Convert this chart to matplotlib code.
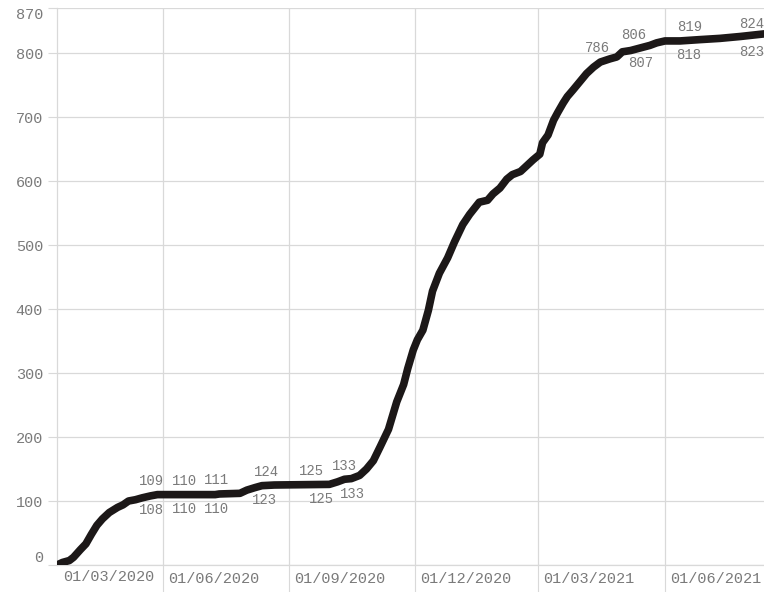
import numpy as np
import matplotlib.pyplot as plt
import matplotlib.dates as mdates
import matplotlib.transforms as mtransforms

# cumulative series
dates = ["2020-03-16", "2020-03-20", "2020-03-25", "2020-03-28", "2020-04-02",
         "2020-04-06", "2020-04-10", "2020-04-14", "2020-04-18", "2020-04-23",
         "2020-04-29", "2020-05-03", "2020-05-07", "2020-05-12", "2020-05-17",
         "2020-05-23", "2020-05-28", "2020-06-01", "2020-07-09", "2020-07-12",
         "2020-07-27", "2020-08-01", "2020-08-07", "2020-08-12", "2020-08-21",
         "2020-09-30", "2020-10-06", "2020-10-11", "2020-10-16", "2020-10-22",
         "2020-10-27", "2020-11-01", "2020-11-06", "2020-11-12", "2020-11-18",
         "2020-11-23", "2020-11-26", "2020-11-30", "2020-12-03", "2020-12-07",
         "2020-12-11", "2020-12-14", "2020-12-19", "2020-12-25", "2020-12-30",
         "2021-01-05", "2021-01-10", "2021-01-17", "2021-01-23", "2021-01-27",
         "2021-02-01", "2021-02-06", "2021-02-10", "2021-02-16", "2021-02-21",
         "2021-02-25", "2021-03-02", "2021-03-04", "2021-03-08", "2021-03-12",
         "2021-03-15", "2021-03-19", "2021-03-22", "2021-03-26", "2021-03-31",
         "2021-04-05", "2021-04-10", "2021-04-15", "2021-04-22", "2021-04-27",
         "2021-05-01", "2021-05-07", "2021-05-14", "2021-05-21", "2021-05-26",
         "2021-06-01", "2021-06-12", "2021-06-26", "2021-07-11", "2021-07-26",
         "2021-08-12"]
values = [0, 4, 7, 12, 24,
          33, 48, 62, 72, 82,
          90, 94, 100, 102, 105,
          108, 110, 110, 110, 111,
          112, 117, 121, 124, 125,
          126, 130, 134, 135, 140,
          150, 163, 185, 212, 255,
          282, 307, 336, 352, 367,
          398, 428, 456, 480, 505,
          532, 548, 567, 570, 580,
          589, 603, 610, 615, 625,
          633, 642, 660, 672, 695,
          707, 722, 732, 742, 755,
          768, 778, 786, 791, 794,
          802, 804, 808, 812, 816,
          819, 819, 821, 823, 826,
          830]

# value labels above and below the line
upper_dates = ["2020-05-24", "2020-06-17", "2020-07-10", "2020-08-15", "2020-09-17",
               "2020-10-11", "2021-04-13", "2021-05-09", "2021-06-19", "2021-08-03"]
upper_vals = [109, 110, 111, 124, 125, 133, 786, 806, 819, 824]
lower_dates = ["2020-05-24", "2020-06-17", "2020-07-10", "2020-08-14", "2020-09-24",
               "2020-10-17", "2021-05-14", "2021-06-18", "2021-08-03"]
lower_vals = [108, 110, 110, 123, 125, 133, 807, 818, 823]

month_ticks = ["2020-06-01", "2020-09-01", "2020-12-01", "2021-03-01", "2021-06-01"]
y_ticks = [0, 100, 200, 300, 400, 500, 600, 700, 800, 870]

x = np.array(dates, dtype="datetime64[D]")
grey = "#d9d9d9"
txt = "#7a7a7a"
font = "Liberation Mono"

fig = plt.figure(figsize=(7.64, 5.92), dpi=100)
ax = fig.add_axes([57 / 764, 27 / 592, 707 / 764, 556.7 / 592])

ax.plot(x, values, color="#1c1818", lw=5.5, solid_capstyle="round",
        solid_joinstyle="round", zorder=3)

for d, v in zip(upper_dates, upper_vals):
    ax.annotate(str(v), (np.datetime64(d), v), xytext=(0, 10), textcoords="offset points",
                ha="center", va="center", fontsize=10, color=txt, family=font)
for d, v in zip(lower_dates, lower_vals):
    ax.annotate(str(v), (np.datetime64(d), v), xytext=(0, -10), textcoords="offset points",
                ha="center", va="center", fontsize=10, color=txt, family=font)

ax.set_xlim(np.datetime64("2020-03-16"), np.datetime64("2021-08-12"))
ax.set_ylim(0, 870)

ax.set_yticks(y_ticks)
ax.set_yticklabels([str(t) for t in y_ticks], family=font, fontsize=11, color=txt)
ax.tick_params(axis="y", length=6.5, width=0.8, color=grey, pad=3.5)
ylabels = ax.get_yticklabels()
ylabels[0].set_va("bottom")
ylabels[-1].set_va("top")

xt = np.array(month_ticks, dtype="datetime64[D]")
ax.set_xticks(xt)
ax.xaxis.set_major_formatter(mdates.DateFormatter("%d/%m/%Y"))
ax.tick_params(axis="x", length=20, width=0.8, color=grey, pad=-15)
shift = mtransforms.ScaledTranslation(5 / 100, 0, fig.dpi_scale_trans)
for lab in ax.get_xticklabels():
    lab.set_ha("left")
    lab.set_family(font)
    lab.set_fontsize(11)
    lab.set_color(txt)
    lab.set_transform(lab.get_transform() + shift)

# first month label sits clamped at the left edge
ax.text(0, 0, "01/03/2020", transform=ax.transAxes + mtransforms.ScaledTranslation(6 / 100, -5 / 100, fig.dpi_scale_trans),
        ha="left", va="top", family=font, fontsize=11, color=txt)

ax.grid(True, color=grey, lw=0.9)
for s in ["top", "right"]:
    ax.spines[s].set_visible(False)
for s in ["left", "bottom"]:
    ax.spines[s].set_color(grey)
    ax.spines[s].set_linewidth(0.9)

fig.savefig("out.png", dpi=100)
